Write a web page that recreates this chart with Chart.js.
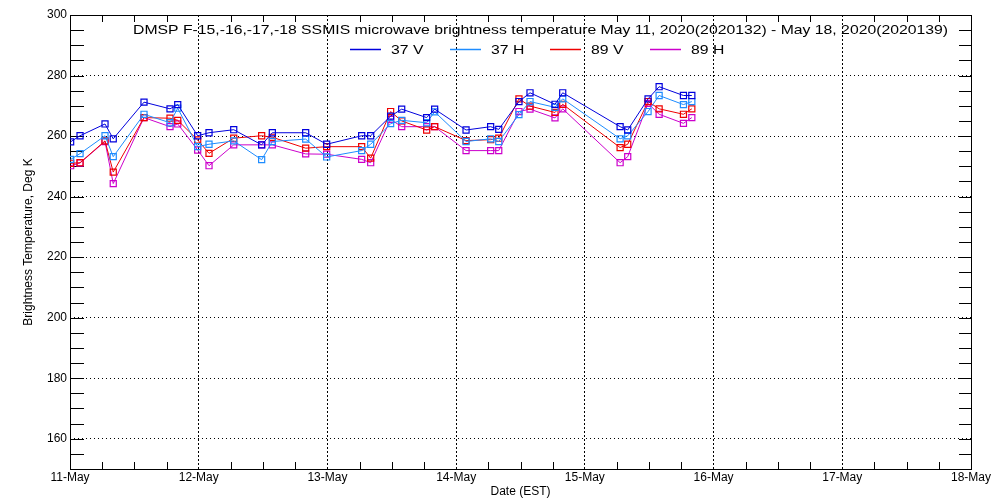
<!DOCTYPE html>
<html>
<head>
<meta charset="utf-8">
<script src="https://cdn.jsdelivr.net/npm/chart.js@4/dist/chart.umd.min.js"></script>
<style>
  html, body { margin: 0; padding: 0; background: #fff; }
  #wrap { width: 1000px; height: 500px; }
</style>
</head>
<body>
<div id="wrap"><canvas id="tbChart" width="1000" height="500"></canvas></div>
<script>
// observation times, in days since 11-May 00:00 EST
const obsDays = [0.005, 0.078, 0.272, 0.336, 0.575, 0.777, 0.837, 0.992, 1.080, 1.272, 1.489,
  1.572, 1.831, 1.994, 2.266, 2.336, 2.491, 2.577, 2.771, 2.833, 3.077, 3.268, 3.331,
  3.488, 3.574, 3.768, 3.828, 4.274, 4.333, 4.491, 4.577, 4.766, 4.831];

const tb37V = [258.1, 260.1, 264.0, 259.1, 271.2, 269.0, 270.4, 260.1, 261.1, 262.1, 257.1,
  261.1, 261.1, 257.3, 260.1, 260.1, 266.6, 268.9, 266.1, 268.9, 262.0, 263.1, 262.2,
  271.4, 274.3, 270.5, 274.3, 263.1, 262.0, 272.3, 276.3, 273.4, 273.4];
const tb37H = [252.3, 254.2, 260.1, 253.2, 267.2, 264.4, 269.2, 256.5, 257.3, 258.4, 252.2,
  258.2, 259.0, 253.1, 255.2, 257.3, 264.1, 265.2, 264.4, 268.0, 258.2, 259.1, 258.2,
  267.1, 271.4, 269.5, 272.3, 259.1, 260.1, 268.1, 273.4, 270.4, 271.4];
const tb89V = [251.0, 251.2, 258.4, 248.1, 266.1, 265.9, 265.2, 258.7, 254.3, 259.3, 260.1,
  259.6, 256.0, 256.5, 256.5, 252.7, 268.1, 265.0, 262.0, 263.1, 258.5, 258.8, 259.3,
  272.3, 269.9, 267.8, 270.5, 256.2, 257.3, 271.4, 269.0, 267.2, 269.0];
const tb89H = [250.2, 251.1, 258.2, 244.3, 266.1, 263.1, 264.0, 255.4, 250.2, 257.1, 257.1,
  257.1, 254.1, 254.0, 252.3, 251.2, 265.5, 263.1, 263.1, 263.1, 255.2, 255.2, 255.2,
  268.1, 268.9, 266.0, 269.0, 251.2, 253.2, 270.8, 267.2, 264.2, 266.1];

const dayLabels = ['11-May', '12-May', '13-May', '14-May', '15-May', '16-May', '17-May', '18-May'];
const yTickValues = [160, 180, 200, 220, 240, 260, 280, 300];
const seriesNames = ['37 V', '37 H', '89 V', '89 H'];
const seriesColors = ['#0000dd', '#1e8cff', '#ee0000', '#cc00cc'];
const titleText = 'DMSP F-15,-16,-17,-18 SSMIS microwave brightness temperature May 11, 2020(2020132) - May 18, 2020(2020139)';

const FONT = "'Liberation Sans', Arial, sans-serif";

function toPoints(values) {
    return values.map((v, i) => ({ x: obsDays[i], y: v }));
}

// frame, inward tick marks, title and legend drawn in the plot area
const framePlugin = {
    id: 'frame',
    beforeDatasetsDraw(chart) {
        const { ctx, chartArea: a, scales } = chart;
        const xs = scales.x, ys = scales.y;
        ctx.save();
        ctx.strokeStyle = '#000';
        ctx.lineWidth = 1;
        ctx.setLineDash([]);
        ctx.beginPath();
        for (let v = 155; v < 300; v += 5) {
            const y = Math.round(ys.getPixelForValue(v)) + 0.5;
            ctx.moveTo(a.left, y); ctx.lineTo(a.left + 14, y);
            ctx.moveTo(a.right - 12, y); ctx.lineTo(a.right, y);
        }
        for (let q = 1; q < 28; q++) {
            if (q % 4 === 0) continue;
            const x = Math.round(xs.getPixelForValue(q / 4)) + 0.5;
            ctx.moveTo(x, a.bottom); ctx.lineTo(x, a.bottom - 7);
            ctx.moveTo(x, a.top); ctx.lineTo(x, a.top + 7);
        }
        ctx.stroke();
        ctx.strokeRect(Math.round(a.left) + 0.5, Math.round(a.top) + 0.5,
            Math.round(a.right - a.left), Math.round(a.bottom - a.top));
        ctx.restore();
    },
    afterDraw(chart) {
        const ctx = chart.ctx;
        ctx.save();
        ctx.setLineDash([]);
        ctx.font = '13px ' + FONT;
        ctx.fillStyle = '#000';
        ctx.textBaseline = 'middle';
        const sx = 815 / ctx.measureText(titleText).width;

        ctx.save();
        ctx.translate(540.5, 30);
        ctx.scale(sx, 1);
        ctx.textAlign = 'center';
        ctx.fillText(titleText, 0, 0);
        ctx.restore();

        seriesNames.forEach((name, i) => {
            const x0 = 350 + i * 100;
            ctx.strokeStyle = seriesColors[i];
            ctx.lineWidth = 1.5;
            ctx.beginPath();
            ctx.moveTo(x0, 49.5);
            ctx.lineTo(x0 + 31, 49.5);
            ctx.stroke();
            ctx.save();
            ctx.translate(x0 + 41, 50);
            ctx.scale(sx, 1);
            ctx.textAlign = 'left';
            ctx.fillStyle = '#000';
            ctx.fillText(name, 0, 0);
            ctx.restore();
        });
        ctx.restore();
    }
};

const allSeries = [tb37V, tb37H, tb89V, tb89H];

new Chart(document.getElementById('tbChart'), {
    type: 'line',
    data: {
        datasets: allSeries.map((vals, i) => ({
            label: seriesNames[i],
            data: toPoints(vals),
            borderColor: seriesColors[i],
            backgroundColor: 'rgba(0,0,0,0)',
            borderWidth: 1,
            tension: 0,
            pointStyle: 'rect',
            pointRadius: 4.3,
            pointBorderWidth: 1.2,
            pointBorderColor: seriesColors[i],
            pointBackgroundColor: 'rgba(0,0,0,0)'
        }))
    },
    options: {
        responsive: false,
        animation: false,
        devicePixelRatio: 1,
        layout: { padding: { top: 15, right: 29, left: 0, bottom: 0 } },
        plugins: {
            legend: { display: false },
            tooltip: { enabled: false }
        },
        scales: {
            x: {
                type: 'linear',
                min: 0,
                max: 7,
                offset: false,
                afterFit: s => { s.height = 31; },
                ticks: {
                    stepSize: 1,
                    autoSkip: false,
                    maxRotation: 0,
                    padding: 1,
                    color: '#000',
                    font: { family: FONT, size: 12 },
                    callback: v => dayLabels[v] || ''
                },
                grid: {
                    drawTicks: false,
                    lineWidth: 1,
                    color: c => (c.tick && (c.tick.value === 0 || c.tick.value === 7)) ? 'rgba(0,0,0,0)' : '#000'
                },
                border: { display: false, dash: [2, 2] },
                title: {
                    display: true,
                    text: 'Date (EST)',
                    color: '#000',
                    font: { family: FONT, size: 12 },
                    padding: { top: 0, bottom: 1 }
                }
            },
            y: {
                min: 150,
                max: 300,
                afterFit: s => { s.width = 70; },
                afterBuildTicks: s => { s.ticks = yTickValues.map(v => ({ value: v })); },
                ticks: {
                    padding: 3,
                    color: '#000',
                    font: { family: FONT, size: 12 },
                    callback: v => String(v)
                },
                grid: {
                    drawTicks: false,
                    lineWidth: 1,
                    color: c => (c.tick && c.tick.value === 300) ? 'rgba(0,0,0,0)' : '#000'
                },
                border: { display: false, dash: [1, 3] },
                title: {
                    display: true,
                    text: 'Brightness Temperature, Deg K',
                    color: '#000',
                    font: { family: FONT, size: 12 },
                    padding: { top: 21, bottom: 0 }
                }
            }
        }
    },
    plugins: [framePlugin]
});
</script>
</body>
</html>
